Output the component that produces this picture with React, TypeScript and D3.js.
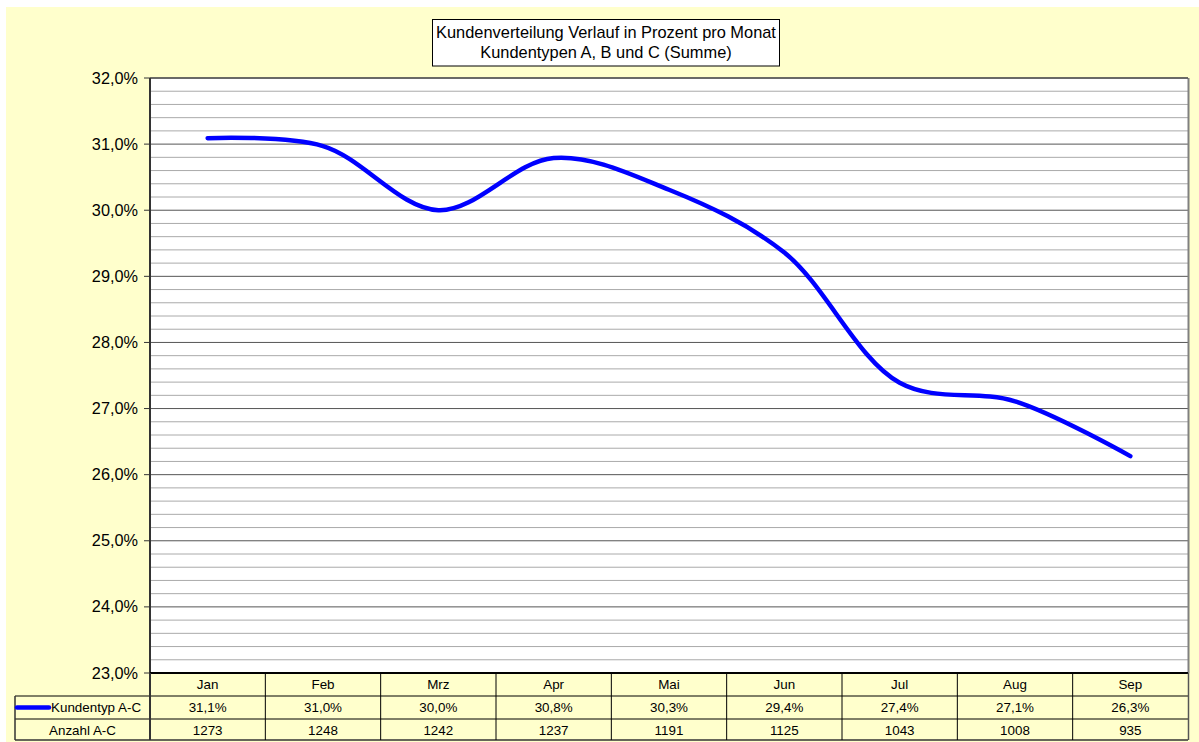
import React from "react";
import * as d3 from "d3";

const months = ["Jan", "Feb", "Mrz", "Apr", "Mai", "Jun", "Jul", "Aug", "Sep"];
const shareValues = [31.09, 30.97, 30.0, 30.79, 30.31, 29.36, 27.39, 27.11, 26.28];
const shareLabels = ["31,1%", "31,0%", "30,0%", "30,8%", "30,3%", "29,4%", "27,4%", "27,1%", "26,3%"];
const counts = [1273, 1248, 1242, 1237, 1191, 1125, 1043, 1008, 935];
const yTicks = [23, 24, 25, 26, 27, 28, 29, 30, 31, 32];
const seriesName = "Kundentyp A-C";
const countName = "Anzahl A-C";
const titleLines = ["Kundenverteilung Verlauf in Prozent pro Monat", "Kundentypen A, B und C (Summe)"];

export default function App() {
  const W = 1199, H = 742;
  const left = 150, right = 1188, top = 78, bottom = 673;
  const tableLeft = 15;
  const rowH = [673, 696, 719, 740];
  const font = "Liberation Sans, Arial, sans-serif";

  const x = d3.scaleBand<string>().domain(months).range([left, right]);
  const y = d3.scaleLinear().domain([23, 32]).range([bottom, top]);
  const minor = d3.range(23, 32.001, 0.2).map((v) => Math.round(v * 10) / 10);

  const line = d3
    .line<number>()
    .x((_, i) => (x(months[i]) as number) + x.bandwidth() / 2)
    .y((d) => y(d))
    .curve(d3.curveCatmullRom.alpha(0.5));

  return (
    <svg width={W} height={H} style={{ position: "absolute", left: 0, top: 0 }} fontFamily={font}>
      <rect x={0} y={0} width={W} height={H} fill="#ffffff" />
      <rect x={6} y={7} width={W - 6} height={H - 7} fill="#FFFFCC" />
      {/* plot area */}
      <rect x={left} y={top} width={right - left} height={bottom - top} fill="#ffffff" />
      {minor.map((v) => {
        const major = Math.abs(v - Math.round(v)) < 1e-6;
        return (
          <line key={v} x1={left} x2={right} y1={y(v)} y2={y(v)}
            stroke={major ? "#555555" : "#aaaaaa"} strokeWidth={1} />
        );
      })}
      <line x1={right + 0.5} x2={right + 0.5} y1={top} y2={bottom} stroke="#808080" strokeWidth={2} />
      <line x1={left} x2={right} y1={top} y2={top} stroke="#555555" strokeWidth={1.5} />
      <line x1={left} x2={left} y1={top} y2={bottom} stroke="#333333" strokeWidth={2} />
      {yTicks.map((t) => (
        <g key={t}>
          <line x1={left - 6} x2={left} y1={y(t)} y2={y(t)} stroke="#333333" strokeWidth={1} />
          <text x={left - 12} y={y(t) + 5.5} textAnchor="end" fontSize={16.3} fill="#000">
            {t.toFixed(1).replace(".", ",") + "%"}
          </text>
        </g>
      ))}
      {/* series */}
      <path d={line(shareValues) || ""} fill="none" stroke="#0000FF" strokeWidth={4.5} strokeLinecap="round" strokeLinejoin="round" />
      {/* data table */}
      <line x1={left} x2={right} y1={bottom} y2={bottom} stroke="#000" strokeWidth={2} />
      <line x1={tableLeft} x2={right} y1={rowH[1]} y2={rowH[1]} stroke="#000" strokeWidth={1} />
      <line x1={tableLeft} x2={right} y1={rowH[2]} y2={rowH[2]} stroke="#000" strokeWidth={1} />
      <line x1={tableLeft} x2={right} y1={rowH[3]} y2={rowH[3]} stroke="#333" strokeWidth={1.5} />
      <line x1={tableLeft} x2={tableLeft} y1={rowH[1]} y2={rowH[3]} stroke="#333" strokeWidth={1.5} />
      <line x1={left} x2={left} y1={bottom} y2={rowH[3]} stroke="#333" strokeWidth={2} />
      {months.map((m, i) => {
        const x0 = x(m) as number;
        const cx = x0 + x.bandwidth() / 2;
        return (
          <g key={m}>
            {i > 0 && <line x1={x0} x2={x0} y1={bottom} y2={rowH[3]} stroke="#000" strokeWidth={1} />}
            <text x={cx} y={rowH[0] + 16} textAnchor="middle" fontSize={13.4}>{m}</text>
            <text x={cx} y={rowH[1] + 16} textAnchor="middle" fontSize={13.4}>{shareLabels[i]}</text>
            <text x={cx} y={rowH[2] + 16} textAnchor="middle" fontSize={13.4}>{counts[i]}</text>
          </g>
        );
      })}
      <line x1={right + 0.5} x2={right + 0.5} y1={bottom} y2={rowH[3]} stroke="#555" strokeWidth={1.5} />
      <line x1={17} x2={49} y1={707.5} y2={707.5} stroke="#0000FF" strokeWidth={4.5} strokeLinecap="round" />
      <text x={51} y={rowH[1] + 16} fontSize={13.4}>{seriesName}</text>
      <text x={(tableLeft + left) / 2} y={rowH[2] + 16} textAnchor="middle" fontSize={13.4}>{countName}</text>
      {/* title */}
      <rect x={432.5} y={19.5} width={347} height={46.5} fill="#ffffff" stroke="#000" strokeWidth={1} />
      <text x={606} y={38} textAnchor="middle" fontSize={16.4}>{titleLines[0]}</text>
      <text x={606} y={57.5} textAnchor="middle" fontSize={16.4}>{titleLines[1]}</text>
    </svg>
  );
}
